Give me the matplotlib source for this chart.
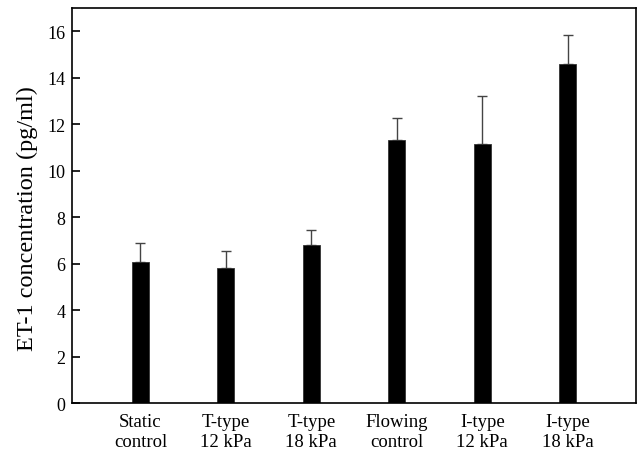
import numpy as np
import matplotlib
matplotlib.use("Agg")
import matplotlib.pyplot as plt

plt.rcParams["font.family"] = ["Liberation Serif", "DejaVu Serif"]

# data
categories = ["Static\ncontrol", "T-type\n12 kPa", "T-type\n18 kPa",
              "Flowing\ncontrol", "I-type\n12 kPa", "I-type\n18 kPa"]
et1_mean = [6.05, 5.81, 6.82, 11.33, 11.16, 14.59]
et1_err = [0.82, 0.75, 0.64, 0.96, 2.06, 1.24]
yticks = [0, 2, 4, 6, 8, 10, 12, 14, 16]

fig = plt.figure(figsize=(6.38, 4.56), dpi=100)
ax = fig.add_axes([0.113, 0.114, 0.884, 0.866])

x = np.arange(len(categories))
ax.bar(x, et1_mean, width=0.2, color="black", edgecolor="#333333", linewidth=0.6, zorder=2)
ax.errorbar(x, et1_mean, yerr=[np.zeros(len(et1_err)), et1_err], fmt="none",
            ecolor="#444444", elinewidth=1.0, capsize=3.3, capthick=1.0, zorder=1)

ax.set_xlim(-0.8, 5.8)
ax.set_ylim(0, 17)
ax.set_yticks(yticks)
ax.set_xticks(x)
ax.set_xticklabels(categories, fontsize=13.5, linespacing=1.25)
ax.tick_params(axis="y", direction="in", length=6, width=1.2, labelsize=13, pad=5)
ax.tick_params(axis="x", length=0, pad=7)
ax.set_ylabel("ET-1 concentration (pg/ml)", fontsize=17.5)
ax.yaxis.set_label_coords(-0.06, 0.47)
for s in ax.spines.values():
    s.set_linewidth(1.2)

fig.savefig("out.png", dpi=100)
